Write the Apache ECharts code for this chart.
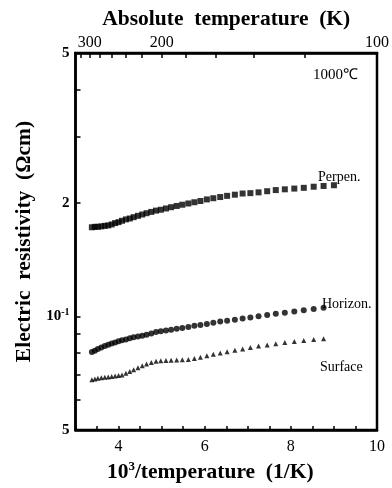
<!DOCTYPE html>
<html><head><meta charset="utf-8">
<script src="https://cdn.jsdelivr.net/npm/echarts@6/dist/echarts.min.js"></script>
<style>html,body{margin:0;padding:0;background:#fff}#c{width:392px;height:488px}</style>
</head><body><div id="c"></div>
<script>
// 10^3 / T (1/K)
const invT = [3.38,3.45,3.52,3.6,3.68,3.76,3.84,3.92,4.0,4.08,4.17,4.26,4.35,4.45,4.55,4.65,4.76,4.87,4.98,5.1,5.22,5.35,5.48,5.62,5.76,5.9,6.05,6.2,6.36,6.52,6.7,6.88,7.06,7.25,7.45,7.65,7.86,8.08,8.3,8.53,8.76,9.0];
// resistivity (Ohm cm)
const perpen = [0.1725,0.173,0.173,0.1735,0.174,0.1745,0.1755,0.177,0.178,0.1795,0.181,0.182,0.1835,0.185,0.1865,0.188,0.1895,0.191,0.192,0.1935,0.195,0.1965,0.198,0.1995,0.201,0.2025,0.2045,0.206,0.2075,0.209,0.2105,0.212,0.2125,0.2135,0.215,0.2165,0.2175,0.2185,0.2195,0.221,0.222,0.223];
const horizon = [0.0805,0.0812,0.082,0.0828,0.0835,0.0842,0.0848,0.0854,0.086,0.0865,0.087,0.0876,0.0881,0.0886,0.089,0.0895,0.0902,0.091,0.0914,0.0919,0.0923,0.0928,0.0933,0.0939,0.0945,0.095,0.0956,0.0963,0.097,0.0975,0.0981,0.0988,0.0995,0.1002,0.101,0.1017,0.1024,0.1031,0.1039,0.1047,0.1055];
const surface = [0.068,0.0683,0.0686,0.0688,0.069,0.0692,0.0694,0.0696,0.0698,0.07,0.0707,0.0715,0.0723,0.0732,0.0741,0.0749,0.0756,0.0761,0.0764,0.0765,0.0766,0.0767,0.0768,0.0769,0.0774,0.078,0.0787,0.0794,0.0801,0.0807,0.0814,0.0821,0.0828,0.0835,0.0841,0.0847,0.0854,0.0859,0.0864,0.0869,0.0873];
const bottomTickLabels = [4,6,8,10];
const topTempTicks = [320,300,280,260,240,220,200,180,160,140,120,100];
const topTempLabels = [300,200,100];
const yLabelValues = [0.05,0.1,0.2,0.5];
const yLabelTexts = ['5','{b|10}{s|-1}','2','5'];
const yTickValues = [0.06,0.07,0.08,0.09,0.1,0.2,0.3,0.4];

const FONT = 'Liberation Serif';
const pairs = (ys) => ys.map((v,i)=>[invT[i], v]);

const chart = echarts.init(document.getElementById('c'), null, {renderer:'canvas'});
chart.setOption({
  animation:false,
  backgroundColor:'#fff',
  textStyle:{fontFamily:FONT,color:'#000'},
  grid:{left:75.5,right:11,top:53,bottom:45,show:true,borderColor:'#000',borderWidth:2.5,backgroundColor:'transparent'},
  xAxis:[{
    type:'value',position:'bottom',min:3,max:10,interval:0.5,
    axisLine:{show:true,lineStyle:{color:'#000',width:2.5}},
    axisTick:{show:true,inside:true,length:4,lineStyle:{color:'#000',width:1.5}},
    splitLine:{show:false},
    axisLabel:{show:true,fontFamily:FONT,fontSize:16,color:'#000',margin:9,
      customValues:bottomTickLabels, formatter:v=>String(v)},
    name:'{a|10}{s|3}{a|/temperature  (1/K)}',nameLocation:'middle',nameGap:24,
    nameTextStyle:{padding:[0,32,0,0],rich:{a:{fontFamily:FONT,fontSize:21.5,fontWeight:'bold',color:'#000'},s:{fontFamily:FONT,fontSize:13,fontWeight:'bold',color:'#000',verticalAlign:'top',padding:[0,0,11,0]}}}
  },{
    type:'value',position:'top',min:3,max:10,
    axisLine:{show:true,lineStyle:{color:'#000',width:2.5}},
    axisTick:{show:true,inside:true,length:5,lineStyle:{color:'#000',width:1.5},customValues:topTempTicks.map(t=>1000/t)},
    splitLine:{show:false},
    axisLabel:{show:true,fontFamily:FONT,fontSize:16,color:'#000',margin:2,
      customValues:topTempLabels.map(t=>1000/t), formatter:v=>String(Math.round(1000/v))},
    name:'Absolute  temperature  (K)',nameLocation:'middle',nameGap:16,
    nameTextStyle:{fontFamily:FONT,fontSize:21.5,fontWeight:'bold',color:'#000'}
  }],
  yAxis:[{
    type:'log',logBase:10,min:0.05,max:0.5,position:'left',
    axisLine:{show:true,lineStyle:{color:'#000',width:2.5}},
    axisTick:{show:true,inside:true,length:5,lineStyle:{color:'#000',width:1.5},customValues:yTickValues},
    splitLine:{show:false},minorTick:{show:false},
    axisLabel:{show:true,fontFamily:FONT,fontSize:15,fontWeight:'bold',color:'#000',margin:6,
      customValues:yLabelValues,
      formatter:v=>{const i=yLabelValues.findIndex(x=>Math.abs(x-v)<1e-6);return i>=0?yLabelTexts[i]:'';},
      rich:{b:{fontFamily:FONT,fontSize:15,color:'#000'},s:{fontFamily:FONT,fontSize:10,color:'#000',verticalAlign:'top',padding:[0,0,8,0]}}},
    name:'Electric  resistivity  (Ωcm)',nameLocation:'middle',nameGap:38,
    nameTextStyle:{fontFamily:FONT,fontSize:21.5,fontWeight:'bold',color:'#000'}
  }],
  series:[
    {name:'Perpen.',type:'scatter',data:pairs(perpen),symbol:'rect',symbolSize:6,itemStyle:{color:'#000'}},
    {name:'Horizon.',type:'scatter',data:pairs(horizon),symbol:'circle',symbolSize:6,itemStyle:{color:'#000'}},
    {name:'Surface',type:'scatter',data:pairs(surface),symbol:'triangle',symbolSize:5,itemStyle:{color:'#000'}}
  ],
  graphic:[
    {type:'text',left:313,top:68,style:{text:'1000℃',font:'15px "Liberation Serif"',fill:'#000'}},
    {type:'text',left:318,top:170,style:{text:'Perpen.',font:'14px "Liberation Serif"',fill:'#000'}},
    {type:'text',left:322,top:297,style:{text:'Horizon.',font:'14px "Liberation Serif"',fill:'#000'}},
    {type:'text',left:320,top:360,style:{text:'Surface',font:'14px "Liberation Serif"',fill:'#000'}}
  ]
});
</script></body></html>
